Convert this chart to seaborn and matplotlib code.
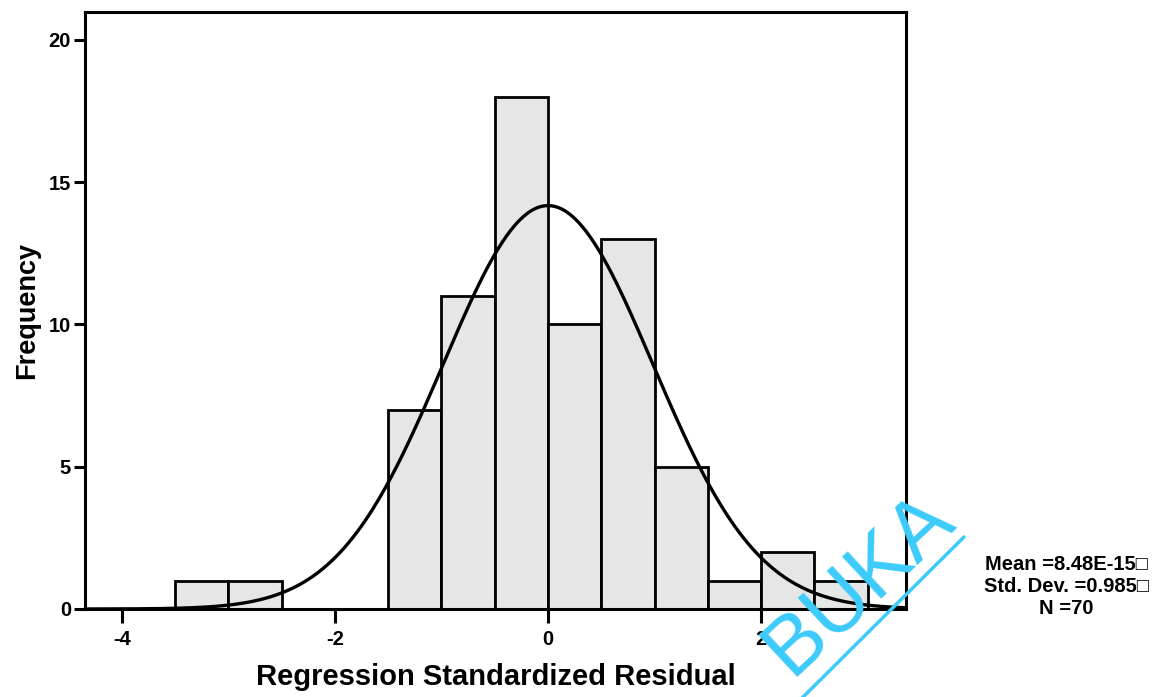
import numpy as np
import pandas as pd
import matplotlib
matplotlib.use("Agg")
import matplotlib.pyplot as plt
import seaborn as sns
from matplotlib.lines import Line2D

# ---- data ----
bin_edges = [-3.5, -3.0, -2.5, -2.0, -1.5, -1.0, -0.5, 0.0, 0.5, 1.0, 1.5, 2.0, 2.5, 3.0]
counts = [1, 1, 0, 0, 7, 11, 18, 10, 13, 5, 1, 2, 1]
mean_val = 8.48e-15
std_val = 0.985
n_val = 70
x_ticks = [-4, -2, 0, 2]
y_ticks = [0, 5, 10, 15, 20]
stats_lines = ["Mean =8.48E-15\u25a1", "Std. Dev. =0.985\u25a1", "N =70"]

sns.set_style("white")
plt.rcParams['font.family'] = ['Liberation Sans', 'DejaVu Sans']
plt.rcParams['text.color'] = 'black'
plt.rcParams['axes.labelcolor'] = 'black'
plt.rcParams['xtick.color'] = 'black'
plt.rcParams['ytick.color'] = 'black'

fig = plt.figure(figsize=(11.63, 6.97), dpi=100)
ax = fig.add_axes([85/1163, 88/697, (906-85)/1163, (609-12)/697])

centers = [(bin_edges[i] + bin_edges[i+1]) / 2 for i in range(len(counts))]
df = pd.DataFrame({"x": centers, "w": counts})
sns.histplot(data=df, x="x", weights="w", bins=bin_edges, ax=ax,
             color="#e6e6e6", edgecolor="black", linewidth=2.0, alpha=1.0)

# fitted normal curve
bw = bin_edges[1] - bin_edges[0]
xs = np.linspace(-4.35, 3.36, 400)
ys = n_val * bw * np.exp(-0.5 * ((xs - mean_val) / std_val) ** 2) / (std_val * np.sqrt(2 * np.pi))
sns.lineplot(x=xs, y=ys, ax=ax, color="black", linewidth=2.4)

ax.set_xlim(-4.347, 3.361)
ax.set_ylim(0, 20.98)
ax.set_xticks(x_ticks)
ax.set_yticks(y_ticks)
ax.set_xticklabels([str(t) for t in x_ticks], fontweight="bold", fontsize=14.5)
ax.set_yticklabels([str(t) for t in y_ticks], fontweight="bold", fontsize=14.5)
ax.tick_params(axis="x", direction="out", length=10, width=2.2, pad=5, bottom=True)
ax.tick_params(axis="y", direction="out", length=8, width=2.2, pad=2, left=True)
for s in ax.spines.values():
    s.set_linewidth(2.2)
    s.set_color("black")
ax.set_xlabel("Regression Standardized Residual", fontsize=21, fontweight="bold", labelpad=10)
ax.set_ylabel("Frequency", fontsize=19.5, fontweight="bold", labelpad=6)

fig.text(1066/1163, 1 - 586/697, "\n".join(stats_lines), ha="center", va="center",
         fontsize=14.5, fontweight="bold", linespacing=1.2, color="black")

# watermark
wm_color = "#3ccbfb"
fig.text(858/1163, 1 - 584/697, "BUKA", rotation=43, ha="center", va="center",
         fontsize=60, color=wm_color, rotation_mode="anchor")
fig.add_artist(Line2D([790/1163, 964/1163], [1 - 710/697, 1 - 537/697],
                      color=wm_color, linewidth=2.5, transform=fig.transFigure))

fig.savefig("out.png", dpi=100)
